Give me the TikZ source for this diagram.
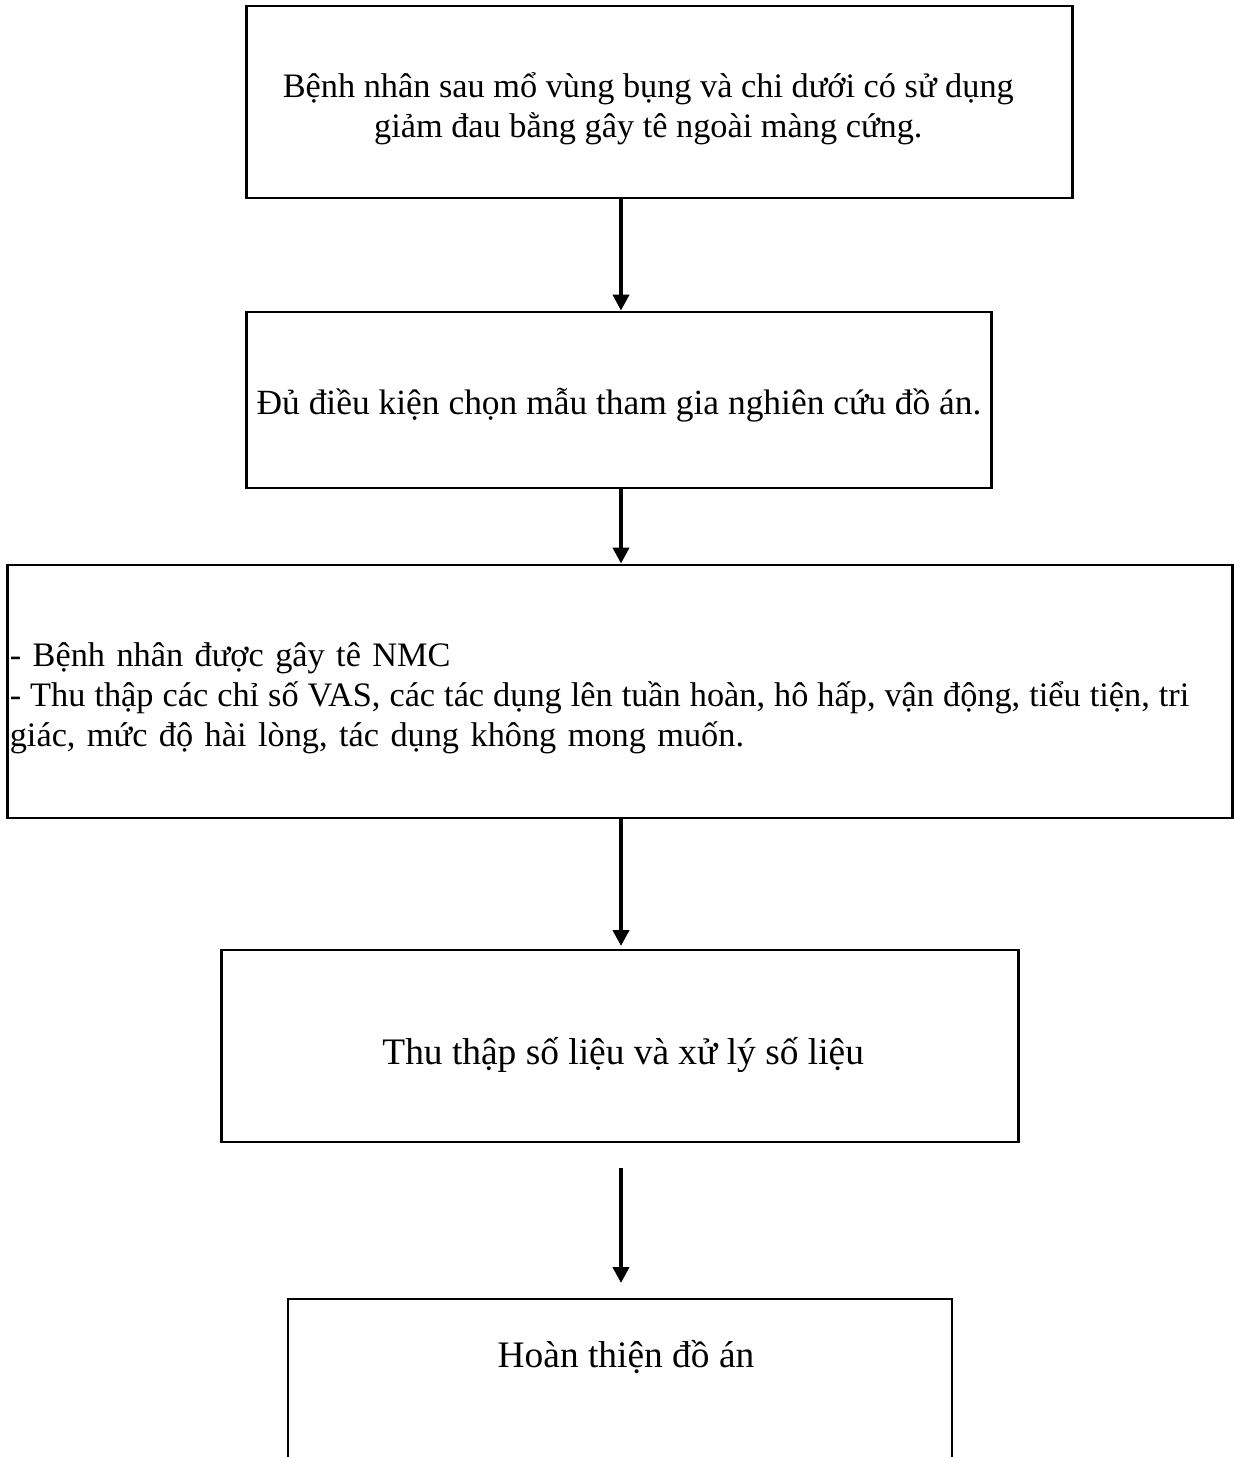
\documentclass[tikz,border=0pt]{standalone}
\usepackage{fontspec}
\setmainfont{Liberation Serif}
\usetikzlibrary{positioning,arrows.meta}

\begin{document}
\begin{tikzpicture}[x=0.0125cm, y=-0.0125cm, font=\fontsize{12.2}{14.2}\selectfont,
	box/.style={draw, line width=1pt, inner sep=0pt, align=center},
	big/.style={font=\fontsize{13.3}{15}\selectfont},
	flow/.style={-{Triangle[length=0.2cm, width=0.2cm]}, line width=1.4pt}]
			\useasboundingbox (0,0) rectangle (1234,1457);
			\node[box, minimum width=10.3125cm, minimum height=2.4cm]   (patient) at (659.5,102)
				{\rule{0pt}{0.48cm}\hspace*{-0.28cm}Bệnh nhân sau mổ vùng bụng và chi dưới có sử dụng\\\hspace*{-0.28cm}giảm đau bằng gây tê ngoài màng cứng.};
			\node[box, minimum width=9.3cm, minimum height=2.2cm, text height=0.46cm, text depth=0.1cm, font=\fontsize{12.6}{14}\selectfont] (select) at (619,400) {Đủ điều kiện chọn mẫu tham gia nghiên cứu đồ án.};
			\node[box, text width=15.25cm, inner xsep=0.025cm, minimum height=3.1625cm, align=left] (collect) at (620,691.5)
				{\rule{0pt}{0.47cm}- Bệnh nhân được gây tê NMC\\\mbox{\spaceskip=3.2pt- Thu thập các chỉ số VAS, các tác dụng lên tuần hoàn, hô hấp, vận động, tiểu tiện, tri}\\giác, mức độ hài lòng, tác dụng không mong muốn.};
			\node[box, big, minimum width=9.95cm, minimum height=2.4cm, text height=0.55cm, text depth=0.1cm] (process) at (620,1046) {\hspace*{0.08cm}Thu thập số liệu và xử lý số liệu};
			\node[big, inner sep=0pt]                                   (done)    at (626,1357) {Hoàn thiện đồ án};
			% last box runs off the page
			\draw[line width=1pt] (288,1457) |- (952,1299) -- (952,1457);
			\coordinate (donetop) at (621,1283);
			\coordinate (gap)     at (621,1168);
			\coordinate (proctop) at (621,946);
			\path[flow] (patient.south -| donetop) edge (select.north -| donetop)
			(select.south -| donetop) edge (collect.north -| donetop)
			(collect.south -| donetop) edge (proctop)
			(gap) edge (donetop);
		\end{tikzpicture}
\end{document}
